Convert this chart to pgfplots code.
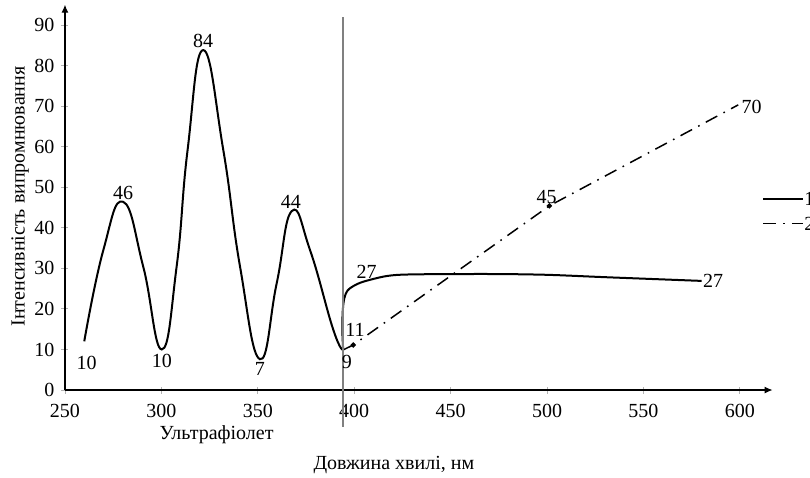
\documentclass[border=0pt]{standalone}
\usepackage{fontspec}
\setmainfont{Liberation Serif}
\usepackage{pgfplots}
\pgfplotsset{compat=1.18}
\usetikzlibrary{arrows.meta}

\begin{document}
\fontsize{10}{12}\selectfont
\begin{tikzpicture}
\begin{axis}[
  x=0.964pt, y=2.028pt,
  xmin=250, xmax=617, ymin=0, ymax=95,
  axis x line=bottom, axis y line=left,
  axis line style={line width=0.6pt, -{Latex[length=4pt,width=3.5pt]}},
  xtick={250,300,...,600}, ytick={0,10,...,90},
  tick align=center, major tick length=3.5pt,
  tick style={gray!60, line width=0.4pt},
  /pgf/number format/assume math mode=true,
  ticklabel style={font=\fontsize{10}{12}\selectfont},
  xticklabel style={yshift=-2pt},
  clip=false,
  legend style={at={(axis cs:611.5,49)}, anchor=north west, draw=none, fill=none,
    font=\fontsize{10}{12}\selectfont, inner sep=0pt, row sep=5.5pt,
    nodes={inner sep=0pt, text height=7pt, text depth=0pt, outer sep=0pt},
    cells={anchor=west}},
  legend image code/.code={\draw[#1] (0pt,0pt) -- (20pt,0pt);},
]
% series 1 (part A, UV region)
\addplot[black, line width=1pt, smooth, tension=0.8] coordinates {
 (260,12) (269.9,34.5) (280.2,46.4) (290.6,30.4) (300.2,10) (307.9,30.4)
 (313.6,59.2) (321.7,83.8) (332.1,59.2) (340.8,30.4) (351.1,7.6) (359.8,26.3)
 (367.6,44.1) (377.1,34.5) (389.2,14.8) (394.3,9.9)
};
\addlegendentry{1}
% series 2
\addplot[black, line width=0.75pt, dash pattern=on 6.5pt off 3.5pt on 0.8pt off 3.5pt,
  mark=*, mark size=0.9pt, mark indices={2,3}, mark options={solid}] coordinates {
 (394.3,9.9) (399.5,11.1) (501.2,45.4) (599.2,70.3)
};
\addlegendentry{2}
% series 1 (part B)
\addplot[black, line width=1pt, smooth, tension=0.5, forget plot] coordinates {
 (394.3,9.9) (393.9,14) (394.0,19) (394.8,22.5) (396.5,24.5) (399.5,25.6)
 (404.7,26.7) (416.9,28.1) (430,28.5) (470,28.6) (500,28.4) (531,27.8) (580.2,26.9)
};
% vertical boundary line
\addplot[gray, line width=0.9pt, forget plot] coordinates {(394,-9.1) (394,92)};

% value labels
\node at (axis cs:261.2,6.7) {10};
\node at (axis cs:280.2,48.5) {46};
\node at (axis cs:300.2,7.2) {10};
\node at (axis cs:321.7,86.1) {84};
\node at (axis cs:351.1,5.2) {7};
\node at (axis cs:367.2,46.3) {44};
\node at (axis cs:396.2,7.0) {9};
\node at (axis cs:400.4,14.8) {11};
\node at (axis cs:406.5,29.2) {27};
\node at (axis cs:499.8,47.5) {45};
\node at (axis cs:606.1,69.8) {70};
\node at (axis cs:586.1,26.9) {27};

% axis titles
\node at (axis cs:328.6,-11.1) {Ультрафіолет};
\node at (axis cs:420.6,-18.5) {Довжина хвилі, нм};
\node[rotate=90] at (axis cs:226.7,47.7) {Інтенсивність випромнювання};

\coordinate (bbSW) at (axis cs:216.3,-21.45);
\coordinate (bbNE) at (axis cs:636.4,96.15);
\end{axis}
\pgfresetboundingbox
\path[use as bounding box] (bbSW) rectangle (bbNE);
\end{tikzpicture}
\end{document}
